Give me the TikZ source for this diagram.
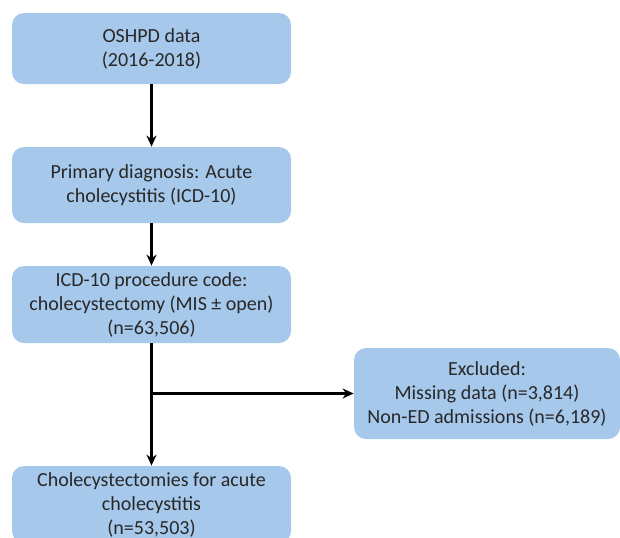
\documentclass[tikz,border=0pt]{standalone}
\usepackage{fontspec}
\setmainfont{Carlito}
\usetikzlibrary{arrows.meta}
\definecolor{boxblue}{RGB}{166,200,235}
\definecolor{textgray}{RGB}{40,40,40}

\begin{document}
\begin{tikzpicture}[x=0.5pt,y=-0.5pt,
  box/.style={rectangle, rounded corners=6pt, fill=boxblue, text=textgray, minimum width=139.5pt, inner sep=0pt, align=center, font=\fontsize{10}{12}\selectfont},
  arr/.style={-{Stealth[length=5.5pt,width=5pt]}, line width=1.3pt}]
\useasboundingbox (0,0) rectangle (620,537);
\node [box, minimum height=35.5pt] (oshpd) at (151.5,48.5) {OSHPD data\\(2016-2018)};
\node [box, minimum height=38pt] (diag) at (151.5,185) {Primary diagnosis: Acute\\cholecystitis (ICD-10)};
\node [box, minimum height=38.5pt] (proc) at (151.5,304.5) {ICD-10 procedure code:\\cholecystectomy (MIS ± open)\\(n=63,506)};
\node [box, minimum width=133pt, minimum height=45.5pt] (excl) at (487,393.5) {Excluded:\\Missing data (n=3,814)\\Non-ED admissions (n=6,189)};
\node [box, minimum height=38.5pt] (final) at (151.5,504.5) {Cholecystectomies for acute\\cholecystitis\\(n=53,503)};
\coordinate (split) at (proc.south |- excl.west);
\draw [arr] (oshpd) -- (diag);
\draw [arr] (diag) -- (proc);
\draw [arr] (proc) -- (final);
\draw [arr] (split) -- (excl);
\end{tikzpicture}
\end{document}
